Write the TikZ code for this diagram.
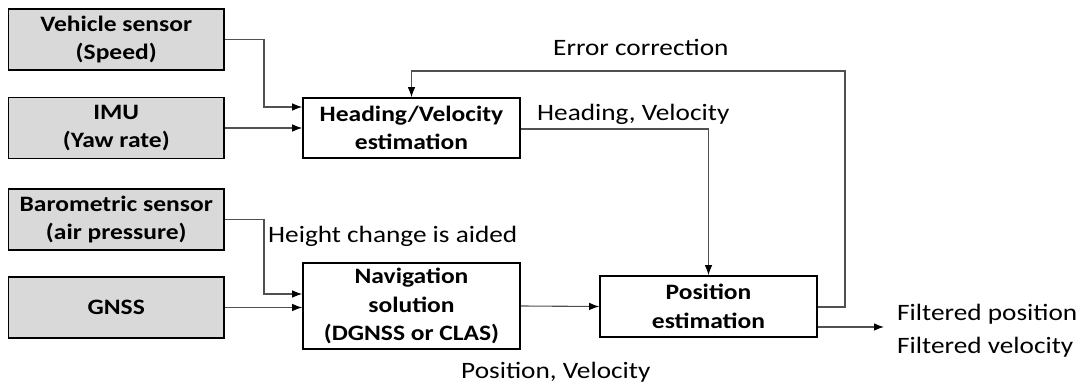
\documentclass[tikz,border=0pt]{standalone}
\usepackage{fontspec}
\setmainfont[FakeStretch=1.16]{Carlito}
\usetikzlibrary{arrows.meta}
\definecolor{boxgray}{HTML}{D9D9D9}
\definecolor{linegray}{HTML}{505050}
\begin{document}
\begin{tikzpicture}[x=1pt,y=-1pt,
  sensor/.style={draw=black, line width=1.6pt, fill=boxgray, inner sep=0pt, align=center,
    font=\bfseries\fontsize{22}{28}\selectfont, minimum width=215.5pt, minimum height=61pt},
  proc/.style={draw=black, line width=1.6pt, fill=white, inner sep=0pt, align=center,
    font=\bfseries\fontsize{22}{28.5}\selectfont, minimum width=217pt},
  conn/.style={draw=linegray, line width=1.1pt, -{Latex[length=10pt,width=7.5pt,color=black]}},
  lbl/.style={inner sep=0pt, font=\fontsize{23.5}{33}\selectfont, anchor=base west}]
\useasboundingbox (0,0) rectangle (1084,387);
% sensor boxes
\node[sensor] (veh)  at (116.25,39.5)  {Vehicle sensor\\(Speed)};
\node[sensor] (imu)  at (116.25,128)   {IMU\\(Yaw rate)};
\node[sensor] (baro) at (116.25,219.5) {Barometric sensor\\(air pressure)};
\node[sensor] (gnss) at (116.25,307.5) {GNSS};
% processing boxes
\node[proc, minimum height=60pt] (hv)  at (411.5,128)   {Heading/Velocity\\estimation};
\node[proc, minimum height=86pt] (nav) at (411.5,306)   {Navigation\\solution\\(DGNSS or CLAS)};
\node[proc, minimum height=61pt] (pos) at (708.5,306.5) {Position\\estimation};
% helper coordinates
\coordinate (j1) at (264,0);
\coordinate (ec) at (845,71);
\coordinate (out) at (884,327);
% connectors
\draw[conn] (veh.east) -- (veh.east -| j1) |- ([yshift=21pt]hv.west);
\draw[conn] (imu.east) -- (hv.west);
\draw[conn] (baro.east) -- (baro.east -| j1) |- ([yshift=12pt]nav.west);
\draw[conn] (gnss.east) -- (gnss.east -| nav.west);
\draw[conn] (nav.east) -- (pos.west);
\draw[conn] ([yshift=-0.5pt]pos.east) -| (ec) -| (hv.north);
\draw[conn] ([yshift=-1pt]hv.east) -| (pos.north);
\draw[conn] (pos.east |- out) -- (out);
% labels
\node[lbl] (lec) at (553,56)  {Error correction};
\node[lbl] (lhv) at (537,121) {Heading, Velocity};
\node[lbl] (lhc) at (268,243) {Height change is aided};
\node[lbl] (lpv) at (461,378) {Position, Velocity};
\node[lbl, align=left] (lout) at (897,353) {Filtered position\\Filtered velocity};
\end{tikzpicture}
\end{document}
